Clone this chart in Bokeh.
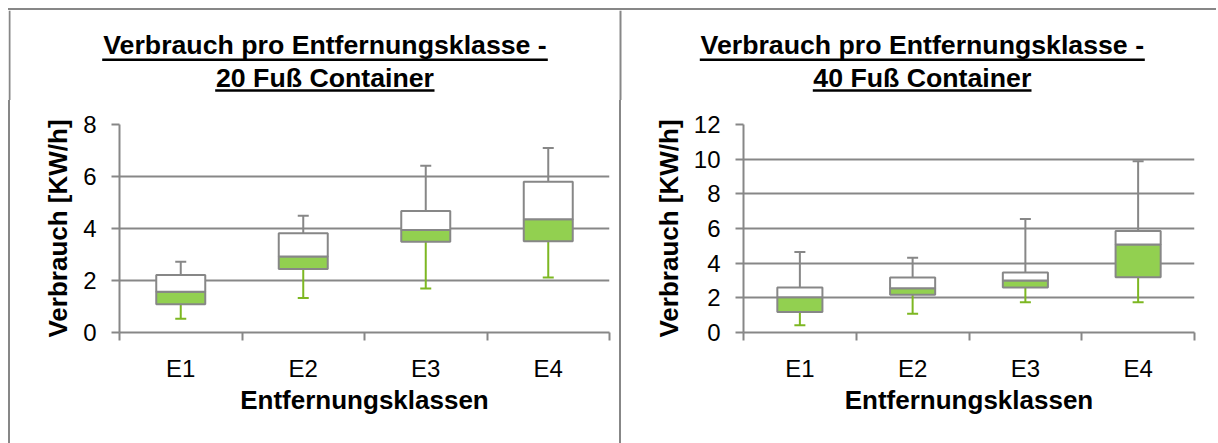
import numpy as np
from bokeh.plotting import figure
from bokeh.layouts import row, column
from bokeh.models import (Range1d, FixedTicker, ColumnDataSource, Whisker, TeeHead, Div,
                          Label)
from bokeh.embed import file_html
from bokeh.resources import INLINE

categories = ["E1", "E2", "E3", "E4"]

title_line1 = "Verbrauch pro Entfernungsklasse -"
titles_line2 = ["20 Fuß Container", "40 Fuß Container"]
x_label = "Entfernungsklassen"
y_label = "Verbrauch [KW/h]"

# 20 Fuß Container
min_20 = [0.53, 1.33, 1.69, 2.12]
q1_20 = [1.09, 2.44, 3.49, 3.51]
med_20 = [1.57, 2.92, 3.94, 4.36]
q3_20 = [2.21, 3.82, 4.67, 5.80]
max_20 = [2.72, 4.49, 6.41, 7.10]
ymax_20 = 8

# 40 Fuß Container
min_40 = [0.42, 1.08, 1.74, 1.74]
q1_40 = [1.18, 2.18, 2.59, 3.19]
med_40 = [2.03, 2.55, 3.00, 5.07]
q3_40 = [2.59, 3.17, 3.46, 5.86]
max_40 = [4.65, 4.31, 6.55, 9.88]
ymax_40 = 12

GRAY = "#878787"
GREEN = "#92D050"
GREEN_LINE = "#7DB722"
FONT = "Liberation Sans"

W1, W2 = 609, 595
TOTAL_W = 2 + W1 + 2 + W2
HEADER_H = 90
CHART_H = 343
TXT_DY = 9  # baseline correction of Label text


def make_header():
    h = figure(width=TOTAL_W, height=HEADER_H, output_backend="svg", toolbar_location=None,
               title=None, x_range=Range1d(0, TOTAL_W), y_range=Range1d(0, HEADER_H),
               x_axis_type=None, y_axis_type=None, min_border=0,
               min_border_left=0, min_border_right=0, min_border_top=0, min_border_bottom=0)
    h.outline_line_color = None
    h.xgrid.visible = False
    h.ygrid.visible = False
    specs = [(titles_line2[0], 316.5, (93.7, 539.3), (206.7, 426.0)),
             (titles_line2[1], 913.8, (691.3, 1136.3), (804.3, 1023.0))]
    x0s, x1s, ys = [], [], []
    for line2, cx, ul1, ul2 in specs:
        for txt, y in ((title_line1, 46.7), (line2, 13.3)):
            h.add_layout(Label(x=cx, y=y + TXT_DY, text=txt, text_font=FONT,
                               text_font_style="bold", text_font_size="26.7px",
                               text_align="center", text_baseline="alphabetic",
                               text_color="black"))
        x0s += [ul1[0], ul2[0]]
        x1s += [ul1[1], ul2[1]]
        ys += [40.7, 10.0]
    h.segment(x0=x0s, y0=ys, x1=x1s, y1=ys, line_color="black", line_width=2.5)
    # panel borders inside the header band
    h.segment(x0=[1, 2 + W1 + 1], y0=[0, 0], x1=[1, 2 + W1 + 1], y1=[HEADER_H, HEADER_H],
              line_color=GRAY, line_width=2)
    return h


def make_chart(mins, q1, med, q3, maxs, ymax, width, border_left, frame_w):
    border_top = 24
    frame_h = 208
    p = figure(width=width, height=CHART_H, output_backend="svg",
               toolbar_location=None, x_range=Range1d(0, len(categories)),
               y_range=Range1d(0, ymax),
               min_border_left=border_left, min_border_top=border_top,
               min_border_right=width - border_left - frame_w,
               min_border_bottom=CHART_H - border_top - frame_h)
    p.outline_line_color = None

    xs = np.arange(len(categories)) + 0.5
    src = ColumnDataSource(dict(x=xs, lo=mins, q1=q1, med=med, q3=q3, hi=maxs))

    p.xaxis.ticker = FixedTicker(ticks=list(xs), minor_ticks=list(range(len(categories) + 1)))
    p.xaxis.major_label_overrides = {float(v): c for v, c in zip(xs, categories)}
    p.xaxis.major_tick_out = 0
    p.xaxis.major_tick_in = 0
    p.xaxis.minor_tick_out = 8
    p.xaxis.minor_tick_in = 0
    p.xaxis.minor_tick_line_color = GRAY
    p.xaxis.minor_tick_line_width = 2
    p.yaxis.ticker = FixedTicker(ticks=list(range(0, ymax + 1, 2)))
    p.yaxis.major_tick_out = 8
    p.yaxis.major_tick_in = 0
    p.yaxis.minor_tick_line_color = None
    for ax in (p.xaxis, p.yaxis):
        ax.axis_line_color = GRAY
        ax.axis_line_width = 2
        ax.major_tick_line_color = GRAY
        ax.major_tick_line_width = 2
        ax.major_label_text_font = FONT
        ax.major_label_text_font_size = "24px"
        ax.major_label_text_color = "black"
        ax.axis_label_text_font = FONT
        ax.axis_label_text_font_size = "26px"
        ax.axis_label_text_font_style = "bold"
        ax.axis_label_text_color = "black"
    p.xaxis.major_label_standoff = 14
    p.xaxis.axis_label_standoff = 0
    p.yaxis.major_label_standoff = 15
    p.yaxis.axis_label_standoff = 7
    p.xaxis.axis_label = x_label
    p.yaxis.axis_label = y_label
    p.xgrid.grid_line_color = None
    p.ygrid.grid_line_color = GRAY
    p.ygrid.grid_line_width = 2
    p.ygrid.ticker = p.yaxis.ticker

    p.add_layout(Whisker(source=src, base="x", lower="q3", upper="hi",
                         line_color=GRAY, line_width=2, lower_head=None,
                         upper_head=TeeHead(size=11, line_color=GRAY, line_width=2)))
    p.add_layout(Whisker(source=src, base="x", lower="lo", upper="q1",
                         line_color=GREEN_LINE, line_width=2, upper_head=None,
                         lower_head=TeeHead(size=11, line_color=GREEN_LINE, line_width=2)))
    p.vbar(x="x", width=0.4, bottom="q1", top="med", source=src,
           fill_color=GREEN, line_color=GRAY, line_width=2)
    p.vbar(x="x", width=0.4, bottom="med", top="q3", source=src,
           fill_color="white", line_color=GRAY, line_width=2)
    return p


def vline(h):
    return Div(width=2, height=h, margin=0, styles={"background-color": GRAY})


header = make_header()
c1 = make_chart(min_20, q1_20, med_20, q3_20, max_20, ymax_20, W1, 109, 490)
c2 = make_chart(min_40, q1_40, med_40, q3_40, max_40, ymax_40, W2, 122, 451)

top_line = Div(width=TOTAL_W, height=2, margin=0, styles={"background-color": GRAY})
layout = column(top_line,
                header,
                row(vline(CHART_H), c1, vline(CHART_H), c2, spacing=0),
                spacing=0, margin=(8, 0, 0, 8))
open("out.html", "w").write(file_html(layout, INLINE))
